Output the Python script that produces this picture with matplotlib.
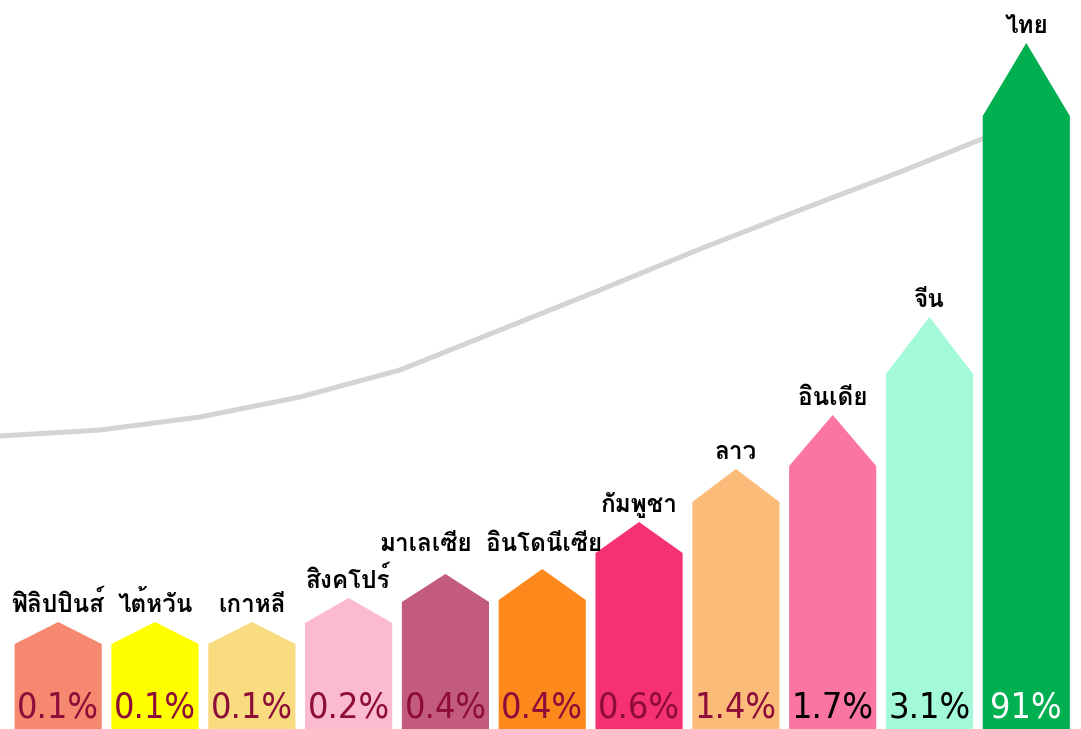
import matplotlib
matplotlib.use("Agg")
import matplotlib.pyplot as plt
from matplotlib import font_manager as fm
from matplotlib.ft2font import FT2Font
import matplotlib.patheffects as pe

# ─────────────────────────────────────────────
#  Data
# ─────────────────────────────────────────────
countries = ["ฟิลิปปินส์", "ไต้หวัน", "เกาหลี", "สิงคโปร์", "มาเลเซีย",
             "อินโดนีเซีย", "กัมพูชา", "ลาว", "อินเดีย", "จีน", "ไทย"]
pct_labels = ["0.1%", "0.1%", "0.1%", "0.2%", "0.4%",
              "0.4%", "0.6%", "1.4%", "1.7%", "3.1%", "91%"]
# arrow body height and arrow tip height (picture units, 0 = bottom)
body_height = [85, 85, 85, 106, 127, 129, 176, 227, 263, 355, 613]
tip_height = [107, 107, 107, 131, 155, 160, 207, 260, 314, 412, 686]

# grey trend curve behind the arrows (x in bar-index units)
curve_x = [-0.601, 0.432, 1.464, 2.498, 3.531, 4.564, 5.597, 6.630, 7.662, 8.695, 9.594]
curve_y = [293, 299, 312, 332, 359, 399, 439, 480, 519, 557, 592]

bar_colors = ["#F6886F", "#FFFF00", "#F9DC80", "#FCBAD0", "#C25B7E",
              "#FD891C", "#F53074", "#FBBB79", "#FB75A2", "#A3FAD9", "#00AF50"]
pct_colors = ["#8D0C3A"] * 8 + ["#000000", "#000000", "#FFFFFF"]


# ─────────────────────────────────────────────
#  Fonts
# ─────────────────────────────────────────────
def has_glyph(path, char):
    try:
        return ord(char) in FT2Font(path).get_charmap()
    except Exception:
        return False


def weight_num(w):
    if isinstance(w, int):
        return w
    return fm.weight_dict.get(w, 400)


# Thai: plain (not looped / serif) bold face with Thai glyphs
thai = [f for f in fm.fontManager.ttflist
        if f.style == "normal" and has_glyph(f.fname, "ก")]
thai.sort(key=lambda f: ("Looped" in f.name or "Serif" in f.name
                         or "looped" in f.fname.lower(),
                         abs(min(weight_num(f.weight), 900) - 650),
                         0 if f.name.startswith("Noto Sans Thai") else 1))
THAI_FILE = thai[0].fname if thai else None
THAI_BOLD = bool(thai) and weight_num(thai[0].weight) >= 600

# numbers: narrowest installed regular face
STRETCH_RANK = {"ultra-condensed": 0, "extra-condensed": 1, "condensed": 2,
                "semi-condensed": 3}
narrow = [f for f in fm.fontManager.ttflist
          if (f.stretch in STRETCH_RANK or "Narrow" in f.name or "Condensed" in f.name)
          and f.style == "normal" and weight_num(f.weight) <= 400]
narrow.sort(key=lambda f: (STRETCH_RANK.get(f.stretch, 2),
                           abs(weight_num(f.weight) - 350)))
if narrow:
    num_prop = fm.FontProperties(fname=narrow[0].fname)
else:
    num_prop = fm.FontProperties(family="DejaVu Sans")

if THAI_FILE:
    thai_prop = fm.FontProperties(fname=THAI_FILE)
else:
    thai_prop = fm.FontProperties(family="DejaVu Sans", weight="bold")

# ─────────────────────────────────────────────
#  Figure
# ─────────────────────────────────────────────
fig = plt.figure(figsize=(10.81, 7.29), dpi=100)
ax = fig.add_axes([0, 0, 1, 1])
ax.set_xlim(-0.601, 10.565)
ax.set_ylim(0, 729)
ax.axis("off")

ax.plot(curve_x, curve_y, color="#D4D4D4", lw=3.6, solid_capstyle="round",
        solid_joinstyle="round", zorder=1)

# size the percentages so that "0.1%" nearly fills an arrow's width
renderer = fig.canvas.get_renderer()
probe = ax.text(0, 0, "0.1%", fontproperties=num_prop, fontsize=30)
probe_w = probe.get_window_extent(renderer).width
probe.remove()
num_size = min(36, 30 * 82 / probe_w)

thai_fx = [] if THAI_BOLD else [pe.withStroke(linewidth=1.3, foreground="black")]

W = 0.9
for i, (name, pct, bh, th, col, tcol) in enumerate(
        zip(countries, pct_labels, body_height, tip_height, bar_colors, pct_colors)):
    xs = [i - W / 2, i - W / 2, i, i + W / 2, i + W / 2]
    ys = [0, bh, th, bh, 0]
    ax.fill(xs, ys, color=col, lw=0, zorder=2)

    ax.text(i, 12, pct, ha="center", va="baseline", color=tcol,
            fontproperties=num_prop, fontsize=num_size, zorder=3)

    lx, ly = i, th + 10
    if name == "มาเลเซีย":
        lx, ly = i - 0.2, tip_height[i + 1] + 18
    if name == "อินโดนีเซีย":
        lx, ly = i + 0.02, th + 18
    ax.text(lx, ly, name, ha="center", va="baseline", color="black",
            fontproperties=thai_prop, fontsize=17.5, zorder=3,
            path_effects=thai_fx)

fig.savefig("out.png", dpi=100)
